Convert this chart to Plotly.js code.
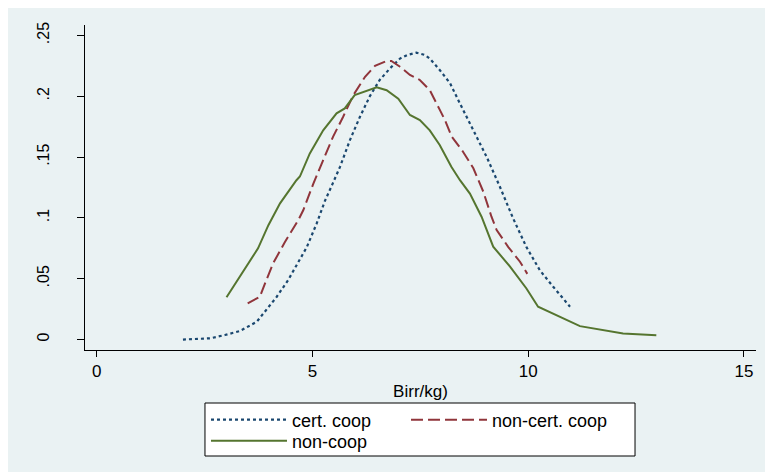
<!DOCTYPE html>
<html>
<head>
<meta charset="utf-8">
<script src="https://cdn.plot.ly/plotly-3.0.1.min.js"></script>
<style>html,body{margin:0;padding:0;background:#fff;}#chart{width:765px;height:472px;}</style>
</head>
<body>
<div id="chart"></div>
<script>
// Series names
var seriesNames = ["cert. coop", "non-cert. coop", "non-coop"];

// cert. coop (kernel density, price in Birr/kg)
var certX = [2.0, 2.3, 2.63, 2.97, 3.32, 3.71, 3.90, 4.17, 4.44, 4.63, 4.87, 5.10, 5.29, 5.48, 5.64, 5.87, 6.10, 6.33, 6.56, 6.80, 7.03, 7.20, 7.41, 7.60, 7.72, 7.95, 8.19, 8.42, 8.65, 8.88, 9.04, 9.34, 9.65, 9.96, 10.27, 10.58, 10.97];
var certY = [0.0, 0.0003, 0.001, 0.0037, 0.007, 0.0146, 0.023, 0.035, 0.049, 0.061, 0.076, 0.0955, 0.114, 0.129, 0.142, 0.164, 0.183, 0.200, 0.2134, 0.223, 0.231, 0.234, 0.2359, 0.234, 0.231, 0.2216, 0.2107, 0.194, 0.178, 0.161, 0.150, 0.126, 0.0997, 0.076, 0.057, 0.0434, 0.027];

// non-cert. coop
var nonCertX = [3.50, 3.78, 3.90, 4.09, 4.36, 4.67, 4.79, 5.02, 5.25, 5.48, 5.71, 5.95, 6.22, 6.45, 6.72, 6.83, 7.03, 7.26, 7.49, 7.72, 7.95, 8.07, 8.23, 8.49, 8.73, 8.96, 9.15, 9.27, 9.54, 9.81, 9.98];
var nonCertY = [0.0298, 0.035, 0.046, 0.0627, 0.080, 0.098, 0.1065, 0.128, 0.1476, 0.1668, 0.183, 0.201, 0.216, 0.225, 0.229, 0.229, 0.2243, 0.2175, 0.2134, 0.205, 0.189, 0.1805, 0.1668, 0.1544, 0.1408, 0.1216, 0.101, 0.090, 0.076, 0.064, 0.054];

// non-coop
var nonCoopX = [3.01, 3.32, 3.59, 3.74, 3.98, 4.25, 4.63, 4.71, 4.94, 5.25, 5.56, 5.75, 5.98, 6.22, 6.49, 6.72, 6.99, 7.26, 7.49, 7.72, 7.95, 8.22, 8.42, 8.65, 8.92, 9.19, 9.58, 9.96, 10.23, 11.20, 12.20, 12.97];
var nonCoopY = [0.0347, 0.0516, 0.0668, 0.075, 0.094, 0.112, 0.131, 0.134, 0.153, 0.172, 0.186, 0.190, 0.201, 0.2038, 0.2074, 0.205, 0.198, 0.1846, 0.1805, 0.172, 0.160, 0.142, 0.131, 0.120, 0.101, 0.0763, 0.060, 0.042, 0.027, 0.011, 0.005, 0.0035];

// Axis ticks
var xTickVals = [0, 5, 10, 15];
var xTickText = ["0", "5", "10", "15"];
var yTickVals = [0, 0.05, 0.1, 0.15, 0.2, 0.25];
var yTickText = ["0", ".05", ".1", ".15", ".2", ".25"];
var xTitle = "Birr/kg)";

var FONT = "Liberation Sans, Arial, sans-serif";
var BG = "#EAF2F3";

var traces = [
  {x: certX, y: certY, name: seriesNames[0], type: "scatter", mode: "lines",
   line: {color: "#1A476F", width: 2.2, dash: "3px,3px"}, legend: "legend"},
  {x: nonCertX, y: nonCertY, name: seriesNames[1], type: "scatter", mode: "lines",
   line: {color: "#90353B", width: 2, dash: "12px,5px"}, legend: "legend2"},
  {x: nonCoopX, y: nonCoopY, name: seriesNames[2], type: "scatter", mode: "lines",
   line: {color: "#55752F", width: 2}, legend: "legend3"}
];

var legendBase = {
  orientation: "v", bgcolor: "rgba(0,0,0,0)", borderwidth: 0,
  font: {family: FONT, size: 18, color: "#000"},
  itemwidth: 76, xanchor: "left", yanchor: "middle", itemclick: false, itemdoubleclick: false
};

var layout = {
  width: 765, height: 472,
  paper_bgcolor: "#ffffff",
  plot_bgcolor: "#ffffff",
  margin: {l: 85, r: 9, t: 25, b: 122, autoexpand: false},
  font: {family: FONT, size: 17, color: "#000"},
  showlegend: true,
  xaxis: {
    range: [-0.27, 15.28], tickvals: xTickVals, ticktext: xTickText,
    showgrid: false, zeroline: false, showline: true, linecolor: "#000", linewidth: 1,
    ticks: "outside", ticklen: 6, tickcolor: "#000", tickwidth: 1,
    tickfont: {family: FONT, size: 17, color: "#000"},
    title: {text: xTitle, font: {family: FONT, size: 17, color: "#000"}, standoff: 4}
  },
  yaxis: {
    range: [-0.0086, 0.2586], tickvals: yTickVals, ticktext: yTickText,
    showgrid: true, gridcolor: BG, gridwidth: 1.5, zeroline: false,
    showline: true, linecolor: "#000", linewidth: 1,
    ticks: "outside", ticklen: 7, tickcolor: "#000", tickwidth: 1,
    tickangle: -90, ticklabelstandoff: 22,
    tickfont: {family: FONT, size: 16, color: "#000"}
  },
  legend: Object.assign({}, legendBase, {x: 0.1803, y: -0.2154}),
  legend2: Object.assign({}, legendBase, {x: 0.4784, y: -0.2154}),
  legend3: Object.assign({}, legendBase, {x: 0.1803, y: -0.28}),
  shapes: [
    {type: "rect", xref: "paper", yref: "paper", x0: -0.1148, x1: 1.02, y0: -0.4, y1: 1.0523,
     fillcolor: BG, line: {width: 0}, layer: "below"},
    {type: "rect", xref: "paper", yref: "paper", x0: 0.1788, x1: 0.8197, y0: -0.3262, y1: -0.1631,
     fillcolor: "#ffffff", line: {color: "#000", width: 1}, layer: "below"}
  ]
};

Plotly.newPlot("chart", traces, layout, {displayModeBar: false, staticPlot: true});
</script>
</body>
</html>
